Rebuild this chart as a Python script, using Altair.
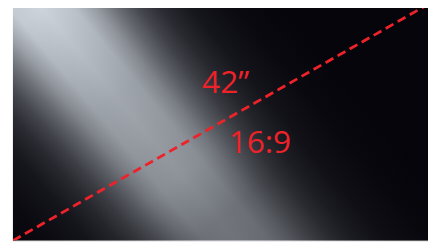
import altair as alt
import pandas as pd

# screen extent (16:9 aspect)
screen_x = [0.0]
screen_x2 = [16.0]
screen_y = [0.0]
screen_y2 = [9.0]

# diagonal (bottom-left to top-right)
diag_x = [0.0, 16.0]
diag_y = [0.0, 9.0]

# labels
labels = ["42\u201d", "16:9"]
label_x = [8.2, 9.52]
label_y = [5.61, 3.35]

screen = pd.DataFrame({"x": screen_x, "x2": screen_x2, "y": screen_y, "y2": screen_y2})
diag = pd.DataFrame({"x": diag_x, "y": diag_y})
lab = pd.DataFrame({"t": labels, "x": label_x, "y": label_y})

xs = alt.Scale(domain=[0, 16], nice=False, zero=False)
ys = alt.Scale(domain=[0, 9], nice=False, zero=False)

band_stops = [
    ("#06050c", 0.0), ("#0c0b12", 0.0626), ("#1a1a21", 0.1341), ("#32333a", 0.1812),
    ("#4e5057", 0.2159), ("#757980", 0.2507), ("#a1a6ae", 0.2834), ("#c3cad2", 0.3182),
    ("#cdd4dc", 0.3693), ("#c3cad2", 0.4204), ("#a1a6ae", 0.4552), ("#757980", 0.4879),
    ("#4e5057", 0.5227), ("#32333a", 0.5574), ("#1a1a21", 0.6045), ("#0c0b12", 0.6761),
    ("#06050c", 0.7578), ("#06050c", 1.0),
]
band = alt.Gradient(
    gradient="linear",
    x1=-0.4062, y1=0.1936, x2=0.8305, y2=-0.3958,
    stops=[alt.GradientStop(color=c, offset=o) for c, o in band_stops],
)

dim_stops = [
    ("rgba(4,4,9,0)", 0.0), ("rgba(4,4,9,0)", 0.046), ("rgba(4,4,9,0.21)", 0.309),
    ("rgba(4,4,9,0.31)", 0.534), ("rgba(4,4,9,0.45)", 0.665), ("rgba(4,4,9,0.55)", 1.0),
]
dim = alt.Gradient(
    gradient="linear",
    x1=0, y1=0, x2=1.1487, y2=0.7809,
    stops=[alt.GradientStop(color=c, offset=o) for c, o in dim_stops],
)

base = alt.Chart(screen)
enc = dict(
    x=alt.X("x:Q", scale=xs, axis=None),
    x2="x2:Q",
    y=alt.Y("y:Q", scale=ys, axis=None),
    y2="y2:Q",
)
bg = base.mark_rect(color=band).encode(**enc)
shade = base.mark_rect(color=dim).encode(**enc)

line = alt.Chart(diag).mark_line(
    color="#ee2229", strokeWidth=2.8, strokeDash=[9, 5], clip=True
).encode(
    x=alt.X("x:Q", scale=xs, axis=None),
    y=alt.Y("y:Q", scale=ys, axis=None),
)

text = alt.Chart(lab).mark_text(
    color="#ee2229", font="Open Sans", fontSize=32, align="center", baseline="alphabetic"
).encode(
    x=alt.X("x:Q", scale=xs, axis=None),
    y=alt.Y("y:Q", scale=ys, axis=None),
    text="t:N",
)

chart = alt.layer(bg, shade, line, text).properties(
    width=420, height=239,
    autosize=alt.AutoSizeParams(type="none"),
    padding={"left": 5, "top": -5, "right": 0, "bottom": 0},
).configure_view(stroke=None).configure(background="white")

chart.save("out.html", embed_options={"renderer": "svg", "actions": False})
